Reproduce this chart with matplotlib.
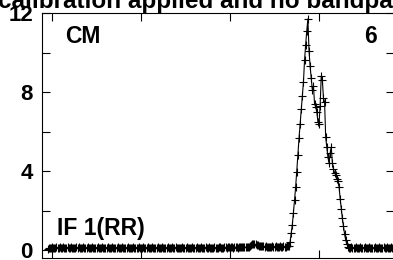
import numpy as np
import matplotlib
matplotlib.use("Agg")
import matplotlib.pyplot as plt
from matplotlib.ticker import MultipleLocator

plt.rcParams['font.family'] = ['Liberation Sans', 'DejaVu Sans']
plt.rcParams['font.weight'] = 'bold'

# amplitude per channel
base_before = [
    0.03, 0.09, 0.12, 0.11, 0.13, 0.12, 0.10, 0.12, 0.13, 0.11, 0.12, 0.14, 0.12, 0.11, 0.13, 0.12, 0.10, 0.12, 0.13, 0.12,
    0.11, 0.13, 0.12, 0.12, 0.10, 0.11, 0.13, 0.12, 0.14, 0.12, 0.11, 0.12, 0.13, 0.11, 0.10, 0.12, 0.13, 0.12, 0.11, 0.12,
    0.13, 0.12, 0.10, 0.11, 0.12, 0.13, 0.12, 0.11, 0.12, 0.14, 0.12, 0.11, 0.10, 0.12, 0.13, 0.12, 0.11, 0.12, 0.13, 0.11,
    0.12, 0.10, 0.12, 0.13, 0.12, 0.11, 0.12, 0.13, 0.12, 0.10, 0.11, 0.12, 0.13, 0.12, 0.11, 0.12, 0.12, 0.13, 0.11, 0.12,
    0.12, 0.11, 0.13, 0.12, 0.10, 0.12, 0.13, 0.11, 0.12, 0.12, 0.14, 0.12, 0.11, 0.12, 0.13, 0.12, 0.10, 0.11, 0.12, 0.13,
    0.12, 0.11, 0.12, 0.13, 0.11, 0.12, 0.10, 0.12, 0.13, 0.12, 0.11, 0.12, 0.14, 0.12, 0.11, 0.13, 0.12, 0.11, 0.12, 0.10,
    0.12, 0.13, 0.12, 0.11, 0.12, 0.13, 0.12, 0.10, 0.12, 0.11, 0.13, 0.12, 0.12, 0.11, 0.13, 0.12, 0.10, 0.12, 0.13, 0.12,
    0.11, 0.12, 0.13, 0.12, 0.11, 0.13, 0.12, 0.12, 0.10, 0.12, 0.13, 0.12, 0.11, 0.12, 0.13, 0.14, 0.12, 0.11, 0.12, 0.13,
    0.13, 0.12, 0.14, 0.13, 0.12, 0.13, 0.14, 0.12, 0.13, 0.14, 0.13, 0.12, 0.14, 0.13, 0.15, 0.13, 0.14, 0.13, 0.14, 0.15,
    0.14, 0.15, 0.18, 0.24, 0.28, 0.30, 0.29, 0.28, 0.26, 0.25, 0.22, 0.21, 0.20, 0.19, 0.18, 0.17, 0.18, 0.17, 0.16, 0.17,
    0.16, 0.17, 0.18, 0.16, 0.17, 0.18, 0.17, 0.16, 0.17, 0.18, 0.17, 0.16, 0.18, 0.17, 0.16, 0.18, 0.20, 0.22,
]
peak = [
    0.42, 0.84, 1.27, 1.89, 2.53, 3.20, 3.97, 4.81, 5.65, 6.38, 7.12, 7.80, 8.50, 9.62, 10.40, 11.10, 11.70,
    10.10, 9.30, 8.70, 8.10, 8.30, 7.40, 7.25, 7.00, 6.50, 6.40, 7.30, 8.80, 8.60, 7.70, 7.50, 5.70, 5.20,
    4.70, 4.40, 4.90, 5.20, 4.40, 4.10, 3.90, 3.80, 3.60, 3.50, 3.20, 2.60, 2.10, 1.60, 1.20, 0.80, 0.50,
    0.30, 0.17,
]
base_after = [
    0.12, 0.10, 0.13, 0.12, 0.11, 0.12, 0.13, 0.12, 0.10, 0.12, 0.13, 0.11, 0.12, 0.12, 0.14, 0.12, 0.11, 0.12, 0.13, 0.12,
    0.10, 0.11, 0.12, 0.13, 0.12, 0.11, 0.12, 0.13, 0.12, 0.10, 0.12, 0.13, 0.11, 0.12, 0.13, 0.12, 0.11, 0.12, 0.13, 0.12,
]
amp = np.array(base_before + peak + base_after)
chan = np.arange(1, len(amp) + 1)

W, H = 393, 260
fig = plt.figure(figsize=(W / 100, H / 100), dpi=100)
ax = fig.add_axes([42 / W, 2 / H, (394 - 42) / W, (258 - 13) / H])

ax.plot(chan, amp, color='black', lw=0.8, marker='+', ms=6, mew=0.8)

ax.set_xlim(-4, 312.4)
ax.set_ylim(-0.405, 12)
ax.set_xticks([5, 85, 165, 245])
ax.set_xticklabels([])
ax.yaxis.set_major_locator(MultipleLocator(4))
ax.yaxis.set_minor_locator(MultipleLocator(2))
ax.tick_params(axis='both', which='both', direction='in', top=True, right=True,
               length=6, width=0.8, color='black')
ax.tick_params(axis='y', labelsize=16, pad=6.5)
for lab in ax.get_yticklabels():
    lab.set_fontweight('bold')
for s in ax.spines.values():
    s.set_linewidth(0.8)

fig.text(65 / W, 1 - 37 / H, 'CM', fontsize=16.5, fontweight='bold', ha='left', va='center')
fig.text(377 / W, 1 - 37 / H, '6', fontsize=16.5, fontweight='bold', ha='right', va='center')
fig.text(57 / W, 1 - 229 / H, 'IF 1(RR)', fontsize=16.5, fontweight='bold', ha='left', va='center')
fig.text(-2 / W, 1 - 8 / H, 'calibration applied and no bandpass', fontsize=17.5,
         fontweight='bold', ha='left', va='baseline')

fig.savefig('out.png', dpi=100)
